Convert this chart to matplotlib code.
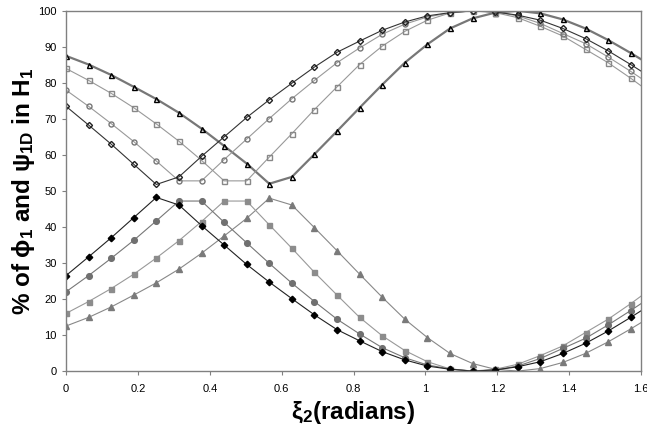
import numpy as np
import matplotlib
matplotlib.use("Agg")
import matplotlib.pyplot as plt

plt.rcParams['font.family'] = ['Liberation Sans', 'DejaVu Sans']
plt.rcParams['mathtext.default'] = 'regular'

# xi_2 sampled every pi/50 rad (last point lies just past the axis edge)
xi2 = [k * np.pi / 50 for k in range(27)]

# % of psi_1D in H1 (upper, open markers)
up_diamond = [73.5, 68.3, 63.0, 57.4, 51.8, 53.9, 59.6, 65.0, 70.4, 75.3, 79.9, 84.4, 88.5, 91.6,
              94.6, 96.9, 98.6, 99.5, 100.0, 99.7, 98.8, 97.4, 95.1, 92.3, 88.9, 85.1, 81.1]
up_circle = [78.0, 73.5, 68.7, 63.7, 58.3, 52.8, 52.8, 58.7, 64.4, 70.1, 75.6, 80.7, 85.6, 89.7,
             93.5, 96.3, 98.3, 99.4, 100.0, 99.7, 98.6, 96.5, 93.7, 90.9, 87.2, 83.2, 79.0]
up_square = [84.0, 80.7, 77.1, 73.1, 68.6, 63.8, 58.5, 52.8, 52.8, 59.4, 65.9, 72.6, 78.9, 85.1,
             90.2, 94.3, 97.4, 99.4, 100.0, 99.5, 98.1, 95.7, 93.0, 89.3, 85.6, 81.3, 76.7]
up_triangle = [87.5, 85.1, 82.2, 78.9, 75.5, 71.7, 67.3, 62.5, 57.6, 52.0, 53.9, 60.2, 66.6, 73.1,
               79.5, 85.6, 90.7, 95.1, 97.9, 99.5, 100.0, 99.3, 97.6, 95.1, 91.9, 88.3, 84.5]

# % of phi_1 in H1 (lower, filled markers)
lo_diamond = [26.5, 31.7, 37.0, 42.6, 48.2, 46.1, 40.4, 35.0, 29.6, 24.7, 20.1, 15.6, 11.5, 8.4,
              5.4, 3.1, 1.4, 0.5, 0.0, 0.3, 1.2, 2.6, 4.9, 7.7, 11.1, 14.9, 18.9]
lo_circle = [22.0, 26.5, 31.3, 36.3, 41.7, 47.2, 47.2, 41.3, 35.6, 29.9, 24.4, 19.3, 14.4, 10.3,
             6.5, 3.7, 1.7, 0.6, 0.0, 0.3, 1.4, 3.5, 6.3, 9.1, 12.8, 16.8, 21.0]
lo_square = [16.0, 19.3, 22.9, 26.9, 31.4, 36.2, 41.5, 47.2, 47.2, 40.6, 34.1, 27.4, 21.1, 14.9,
             9.8, 5.7, 2.6, 0.6, 0.0, 0.5, 1.9, 4.3, 7.0, 10.7, 14.4, 18.7, 23.3]
lo_triangle = [12.5, 14.9, 17.8, 21.1, 24.5, 28.3, 32.7, 37.5, 42.4, 48.0, 46.1, 39.8, 33.4, 26.9,
               20.5, 14.4, 9.3, 4.9, 2.1, 0.5, 0.0, 0.7, 2.4, 4.9, 8.1, 11.7, 15.5]

xticks = [0, 0.2, 0.4, 0.6, 0.8, 1, 1.2, 1.4, 1.6]
xtick_labels = ['0', '0.2', '0.4', '0.6', '0.8', '1', '1.2', '1.4', '1.6']
yticks = list(range(0, 101, 10))

fig = plt.figure(figsize=(6.47, 4.33), dpi=100)
ax = fig.add_axes([0.102, 0.143, 0.889, 0.832])

ms = 3.6
# upper series
ax.plot(xi2, up_triangle, color='#777777', lw=1.6, marker='^', ms=ms, mfc='none', mec='black', mew=1.0)
ax.plot(xi2, up_square, color='#999999', lw=0.8, marker='s', ms=ms, mfc='none', mec='#888888', mew=1.0)
ax.plot(xi2, up_circle, color='#999999', lw=0.8, marker='o', ms=ms, mfc='none', mec='#777777', mew=1.0)
ax.plot(xi2, up_diamond, color='#333333', lw=0.8, marker='D', ms=ms - 0.5, mfc='none', mec='#222222', mew=1.0)

# lower series
ax.plot(xi2, lo_triangle, color='#888888', lw=0.8, marker='^', ms=ms + 1, mfc='#7a7a7a', mec='#7a7a7a')
ax.plot(xi2, lo_square, color='#999999', lw=0.8, marker='s', ms=ms, mfc='#8c8c8c', mec='#8c8c8c')
ax.plot(xi2, lo_circle, color='#777777', lw=0.8, marker='o', ms=ms + 0.5, mfc='#707070', mec='#707070')
ax.plot(xi2, lo_diamond, color='#222222', lw=0.8, marker='D', ms=ms - 0.3, mfc='black', mec='black')

ax.set_xlim(0, 1.6)
ax.set_ylim(0, 100)
ax.set_xticks(xticks)
ax.set_xticklabels(xtick_labels)
ax.set_yticks(yticks)
ax.tick_params(axis='both', labelsize=8, length=3, width=0.8, color='#808080', direction='out')
ax.tick_params(axis='x', pad=6)
for side in ['left', 'bottom', 'right', 'top']:
    ax.spines[side].set_color('#808080')
    ax.spines[side].set_linewidth(1.0)

ax.set_xlabel('ξ$_2$(radians)', fontsize=17.5, fontweight='bold', va='center')
ax.set_ylabel('% of ϕ$_1$ and ψ$_{1D}$ in H$_1$', fontsize=17.5, fontweight='bold', va='center')
ax.xaxis.set_label_coords(0.5, -0.115)
ax.yaxis.set_label_coords(-0.074, 0.5)

fig.savefig('out.png', dpi=100)
